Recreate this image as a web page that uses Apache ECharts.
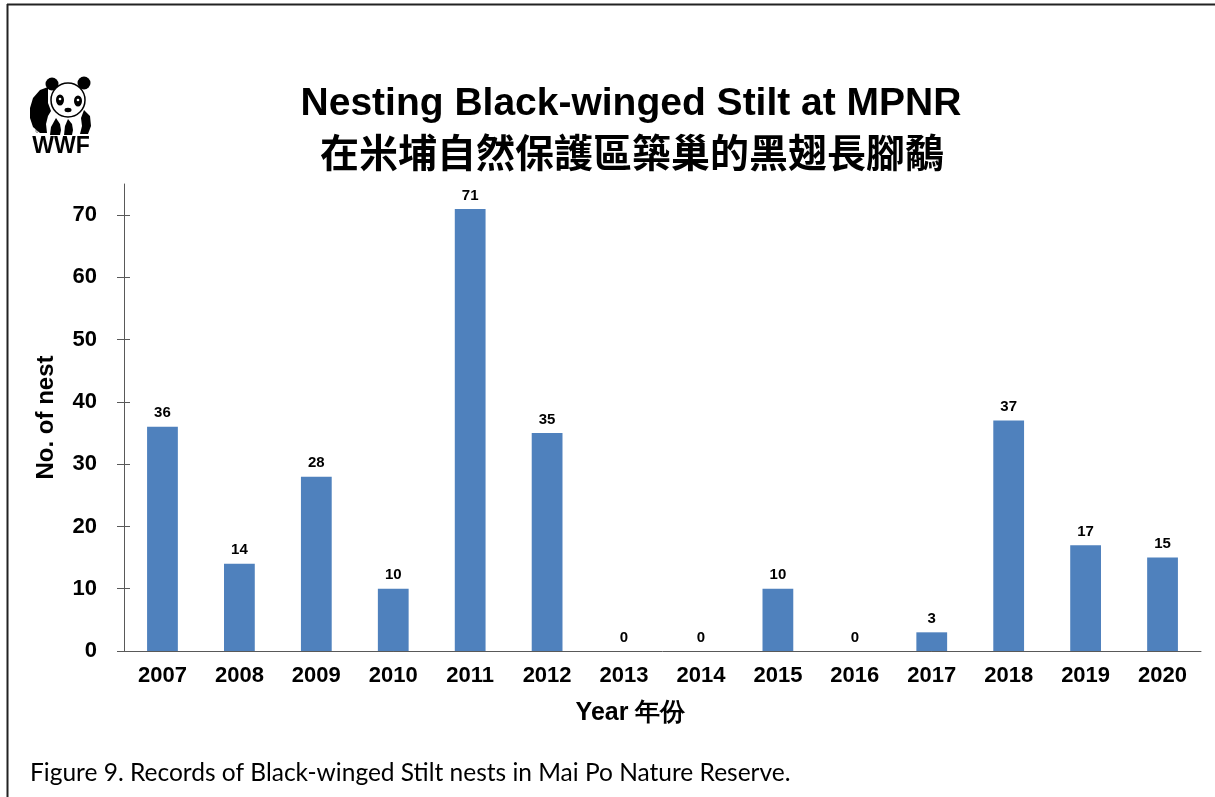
<!DOCTYPE html>
<html>
<head>
<meta charset="utf-8">
<script src="https://cdn.jsdelivr.net/npm/echarts@6/dist/echarts.min.js"></script>
<style>
html,body{margin:0;padding:0;background:#fff;}
#c{width:1215px;height:797px;}
</style>
</head>
<body>
<div id="c"></div>
<script>
const years = ['2007','2008','2009','2010','2011','2012','2013','2014','2015','2016','2017','2018','2019','2020'];
const nests = [36, 14, 28, 10, 71, 35, 0, 0, 10, 0, 3, 37, 17, 15];
const yTicks = [0, 10, 20, 30, 40, 50, 60, 70];
const titleEn = 'Nesting Black-winged Stilt at MPNR';
const titleZh = '在米埔自然保護區築巢的黑翅長腳鷸';
const xName = 'Year 年份';
const yName = 'No. of nest';
const caption = 'Figure 9. Records of Black-winged Stilt nests in Mai Po Nature Reserve.';

const F = '"Liberation Sans", Arial, sans-serif';
const chart = echarts.init(document.getElementById('c'));

function oval(cx, cy, rx, ry, fill) {
  return {type:'circle', shape:{cx:0, cy:0, r:rx}, x:cx, y:cy, scaleY: ry/rx, style:{fill:fill}};
}
const panda = [
  {type:'circle', shape:{cx:52, cy:84, r:6.5}, style:{fill:'#000'}},
  {type:'circle', shape:{cx:84, cy:83, r:6.5}, style:{fill:'#000'}},
  {type:'polygon', shape:{points:[[48,87],[40,90],[33,98],[30,108],[30,118],[33,127],[40,133],[47,133],[46,124],[48,116],[51,111],[48,103],[48,94]]}, style:{fill:'#000'}},
  {type:'circle', shape:{cx:68, cy:100, r:17}, style:{fill:'#fff', stroke:'#000', lineWidth:1.5}},
  oval(60, 100, 4, 5.5, '#000'),
  oval(78, 101, 4, 5.5, '#000'),
  {type:'circle', shape:{cx:60, cy:99, r:1.3}, style:{fill:'#fff'}},
  {type:'circle', shape:{cx:78, cy:100, r:1.3}, style:{fill:'#fff'}},
  oval(68, 110, 3.5, 2.2, '#000'),
  {type:'polygon', shape:{points:[[84,110],[90,116],[91,126],[88,134],[80,134],[82,126],[81,118]]}, style:{fill:'#000'}},
  {type:'polygon', shape:{points:[[56,118],[60,124],[61,130],[60,135],[50,135],[51,127]]}, style:{fill:'#000'}},
  {type:'polygon', shape:{points:[[68,119],[72,124],[73,130],[72,135],[64,135],[65,126]]}, style:{fill:'#000'}},
  {type:'text', style:{text:'WWF', x:61, y:147, align:'center', verticalAlign:'middle', font:'900 23px "Liberation Sans", Arial, sans-serif', fill:'#000'}},
  {type:'text', style:{text:'®', x:37, y:132, align:'center', verticalAlign:'middle', font:'5px sans-serif', fill:'#000'}}
];

chart.setOption({
  animation: false,
  backgroundColor: '#fff',
  title: [
    {text: titleEn, left: 626, top: 80, textAlign: 'center',
     textStyle:{fontFamily:F, fontWeight:'bold', fontSize:39, color:'#000'}},
    {text: titleZh, left: 627, top: 128, textAlign: 'center',
     textStyle:{fontFamily:'"Noto Sans CJK TC", sans-serif', fontWeight:'bold', fontSize:39, color:'#000'}}
  ],
  grid: {left: 124, right: 14, top: 184, bottom: 146, containLabel: false},
  xAxis: {
    type: 'category',
    data: years,
    boundaryGap: true,
    axisLine: {lineStyle:{color:'#595959', width:1}},
    axisTick: {inside: true, length: 7, alignWithLabel: false, lineStyle:{color:'#595959'}},
    axisLabel: {margin: 14, fontFamily:F, fontWeight:'bold', fontSize:22, color:'#000'},
    name: xName,
    nameLocation: 'middle',
    nameGap: 50,
    nameTextStyle: {fontFamily:F, fontWeight:'bold', fontSize:25, color:'#000', padding:[0, 64, 0, 0]}
  },
  yAxis: [
    {
      type: 'value', min: 0, max: 75, interval: 10,
      splitLine: {show:false},
      axisLine: {show:true, lineStyle:{color:'#595959', width:1}},
      axisTick: {show:true, length: 7, customValues: yTicks, lineStyle:{color:'#595959'}},
      axisLabel: {margin: 27, customValues: yTicks, fontFamily:F, fontWeight:'bold', fontSize:22, color:'#000'},
      name: yName,
      nameLocation: 'middle',
      nameGap: 66,
      nameRotate: 90,
      nameTextStyle: {fontFamily:F, fontWeight:'bold', fontSize:24, color:'#000'}
    },
    {
      type: 'value', min: 0, max: 75, interval: 10, position: 'left',
      splitLine: {show:false},
      axisLine: {show:false},
      axisTick: {show:true, inside:true, length: 6, customValues: yTicks, lineStyle:{color:'#595959'}},
      axisLabel: {show:false}
    }
  ],
  series: [{
    type: 'bar',
    data: nests,
    barWidth: '40%',
    itemStyle: {color: '#4f81bd'},
    label: {show: true, position: 'top', distance: 6,
      fontFamily:F, fontWeight:'bold', fontSize:15, color:'#000'}
  }],
  graphic: [
    {type:'line', shape:{x1:7, y1:4.5, x2:1215, y2:4.5}, style:{stroke:'#222', lineWidth:2}},
    {type:'line', shape:{x1:7.5, y1:4, x2:7.5, y2:797}, style:{stroke:'#222', lineWidth:2}},
    {type:'line', shape:{x1:117, y1:651.5, x2:124, y2:651.5}, style:{stroke:'#595959', lineWidth:1}},
    {type:'text', style:{text: caption, x:30, y:773, verticalAlign:'middle',
      font:'24.5px Lato, "Open Sans", sans-serif', fill:'#000'}},
    ...panda
  ]
});
</script>
</body>
</html>
